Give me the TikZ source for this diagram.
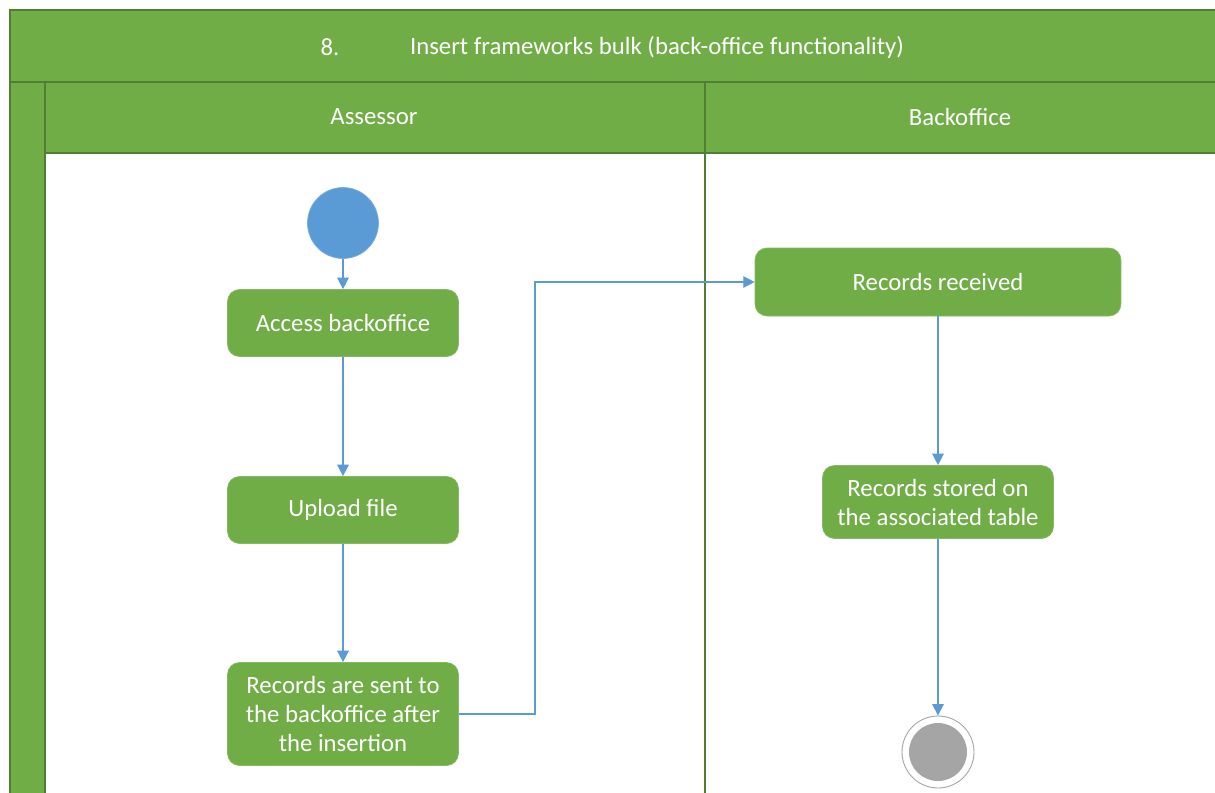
\documentclass[tikz,border=0pt]{standalone}
\usepackage{fontspec}
\setmainfont{Carlito}
\usetikzlibrary{arrows.meta}
\definecolor{lanegreen}{HTML}{70AD47}
\definecolor{darkgreen}{HTML}{507E32}
\definecolor{flowblue}{HTML}{5B9BD5}
\definecolor{endgrey}{HTML}{A5A5A5}

\begin{document}
\begin{tikzpicture}[x=0.02cm,y=-0.02cm,
  action/.style={rectangle,rounded corners=0.24cm,fill=lanegreen,draw=lanegreen!85!white,
    text=white,align=center,minimum width=4.62cm,minimum height=1.34cm,inner sep=2pt,
    font=\fontsize{14.1}{16.5}\selectfont},
  headtext/.style={text=white,font=\fontsize{14.1}{16.5}\selectfont},
  band/.style={draw=darkgreen,fill=lanegreen,line width=0.8pt},
  flow/.style={flowblue,line width=0.8pt,-{Triangle[length=6.5pt,width=6.5pt]}}]
\useasboundingbox (0,0) rectangle (1215,792);
\clip (0,0) rectangle (1215,792);
% pool, lane headers and lane bodies
\fill[white] (0,0) rectangle (1215,792);
\draw[band] (10,10) rectangle (1240,82);
\draw[band] (10,82) rectangle (45,820);
\draw[band] (45,82) rectangle (1240,153);
\draw[darkgreen,line width=0.8pt] (45,153) rectangle (1240,820);
\draw[darkgreen,line width=0.8pt] (705,82) -- (705,820);
\node[headtext] (titlenum) at (330,47) {8.};
\node[headtext] (title) at (657,47) {Insert frameworks bulk (back-office functionality)};
\node[headtext] (assessor) at (374,117) {Assessor};
\node[headtext] (backoffice) at (960,117) {Backoffice};
% assessor lane
\node[circle,fill=flowblue,draw=flowblue!80!white,minimum size=1.42cm] (start) at (343,223) {};
\node[action] (access) at (343,323) {Access backoffice};
\node[action] (upload) at (343,510) {Upload file};
\node[action,minimum height=2.06cm] (sent) at (343,714)
  {Records are sent to\\the backoffice after\\the insertion};
% backoffice lane
\node[action,minimum width=7.32cm,minimum height=1.36cm] (received) at (938,282) {Records received};
\node[action,minimum height=1.46cm] (stored) at (938,502) {Records stored on\\the associated table};
\node[circle,draw=endgrey,fill=white,line width=0.5pt,minimum size=1.44cm] (finish) at (938,752) {};
\node[circle,fill=endgrey,minimum size=1.16cm] (finishdot) at (finish) {};
% flows
\draw[flow] (start) -- (access);
\draw[flow] (access) -- (upload);
\draw[flow] (upload) -- (sent);
\draw[flow] (sent.east) -- ++(76,0) |- (received);
\draw[flow] (received) -- (stored);
\draw[flow] (stored) -- (finish);
\end{tikzpicture}
\end{document}
